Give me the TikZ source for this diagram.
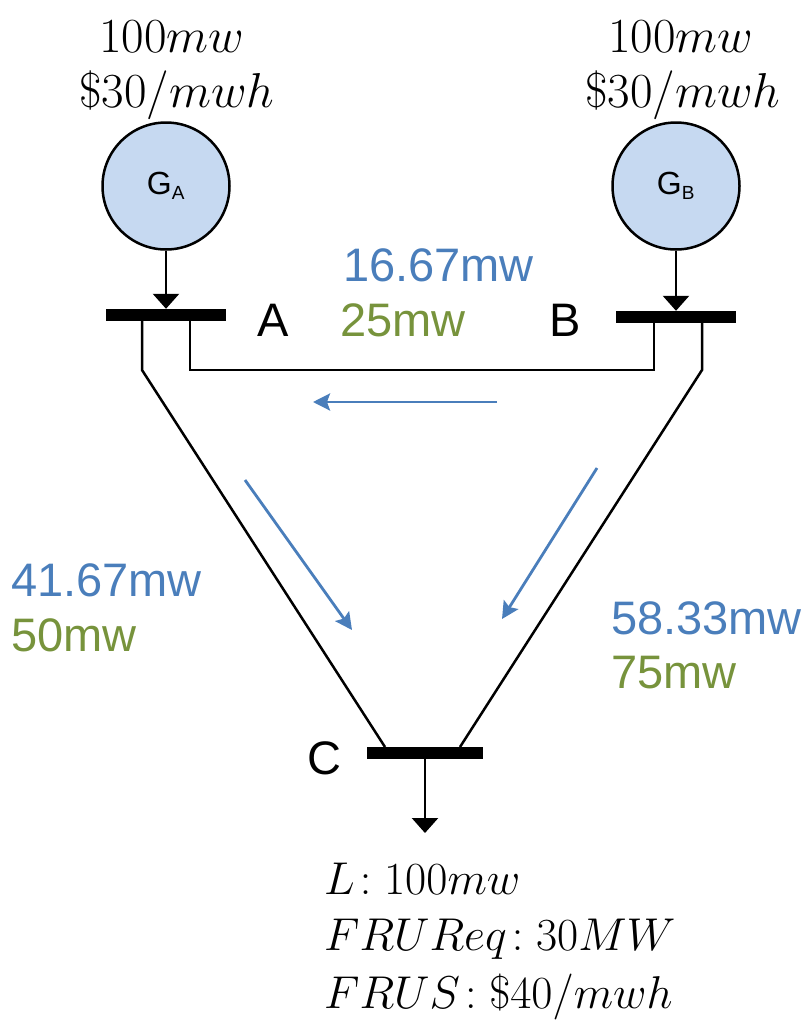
\RequirePackage{fix-cm}
\documentclass[tikz,border=0pt]{standalone}
\usepackage{fontspec}
\setmainfont{Liberation Sans}
\usetikzlibrary{arrows.meta}
\definecolor{flowblue}{RGB}{74,126,187}
\definecolor{flowgreen}{RGB}{119,147,60}
\definecolor{genfill}{RGB}{198,217,241}
\tikzset{
  bus/.style={fill=black,draw=none,rectangle,minimum width=120pt,minimum height=12pt,inner sep=0pt},
  gen/.style={circle,draw=black,line width=2.5pt,fill=genfill,minimum size=127pt,inner sep=0pt,font=\fontsize{32}{36}\selectfont},
  line/.style={line width=2.5pt,black},
  inj/.style={line width=2.5pt,black,-{Triangle[width=26pt,length=15pt]}},
  flow/.style={line width=2.8pt,flowblue,-{Stealth[width=17pt,length=17pt,inset=3pt]}},
  lbl/.style={font=\fontsize{47}{50}\selectfont,inner sep=0pt},
  mtxt/.style={font=\fontsize{49}{52}\selectfont,inner sep=0pt},
  ltxt/.style={font=\fontsize{46}{50}\selectfont,inner sep=0pt},
  btxt/.style={lbl,text=flowblue},
  gtxt/.style={lbl,text=flowgreen},
}
\begin{document}
\begin{tikzpicture}[x=1pt,y=-1pt]
\useasboundingbox (0,0) rectangle (809,1023);
% generators
\node[gen] (GA) at (166,186) {G\textsubscript{\fontsize{19}{20}\selectfont A}};
\node[gen] (GB) at (676,186) {G\textsubscript{\fontsize{19}{20}\selectfont B}};
\node[mtxt] (tA1) at (172,37) {$100mw$};
\node[mtxt] (tA2) at (177,95) {$\$30/mwh$};
\node[mtxt] (tB1) at (681,37) {$100mw$};
\node[mtxt] (tB2) at (683,95) {$\$30/mwh$};
% buses
\node[bus] (busA) at (166,315) {};
\node[bus] (busB) at (676,317) {};
\node[bus,minimum width=116pt] (busC) at (425,753) {};
\node[lbl] (labA) at (273,320) {A};
\node[lbl] (labB) at (565,320) {B};
\node[lbl] (labC) at (324,758) {C};
% injections
\draw[inj] (GA.south) -- (busA.north);
\draw[inj] (GB.south) -- (busB.north);
\coordinate (load) at (425,833);
\draw[inj] (busC.south) -- (load);
% lines
\coordinate (a1) at (142,370);
\coordinate (a2) at (190,370);
\coordinate (b1) at (654,370);
\coordinate (b2) at (702,370);
\coordinate (c1) at (385,747);
\coordinate (c2) at (460,747);
\draw[line] (busA.south -| a1) -- (a1) -- (c1);
\draw[line] (busA.south -| a2) -- (a2) -- (b1) -- (busB.south -| b1);
\draw[line] (busB.south -| b2) -- (b2) -- (c2);
% flows
\coordinate (f1s) at (497,402); \coordinate (f1e) at (313,402);
\coordinate (f2s) at (245,480); \coordinate (f2e) at (352,630);
\coordinate (f3s) at (597,468); \coordinate (f3e) at (502,619);
\draw[flow] (f1s) -- (f1e);
\draw[flow] (f2s) -- (f2e);
\draw[flow] (f3s) -- (f3e);
% flow labels
\node[btxt,anchor=west] (ab1) at (343,265) {16.67mw};
\node[gtxt,anchor=west] (ab2) at (340,320) {25mw};
\node[btxt,anchor=west] (ac1) at (11,580) {41.67mw};
\node[gtxt,anchor=west] (ac2) at (11,635) {50mw};
\node[btxt,anchor=west] (bc1) at (611,618) {58.33mw};
\node[gtxt,anchor=west] (bc2) at (611,673) {75mw};
% load text
\node[ltxt,anchor=west] (L1) at (324,879) {$L\!:100mw$};
\node[ltxt,anchor=west] (L2) at (324,939) {$FRUReq\!:30MW$};
\node[ltxt,anchor=west] (L3) at (324,997) {$FRUS\!:\$40/mwh$};
\end{tikzpicture}
\end{document}
